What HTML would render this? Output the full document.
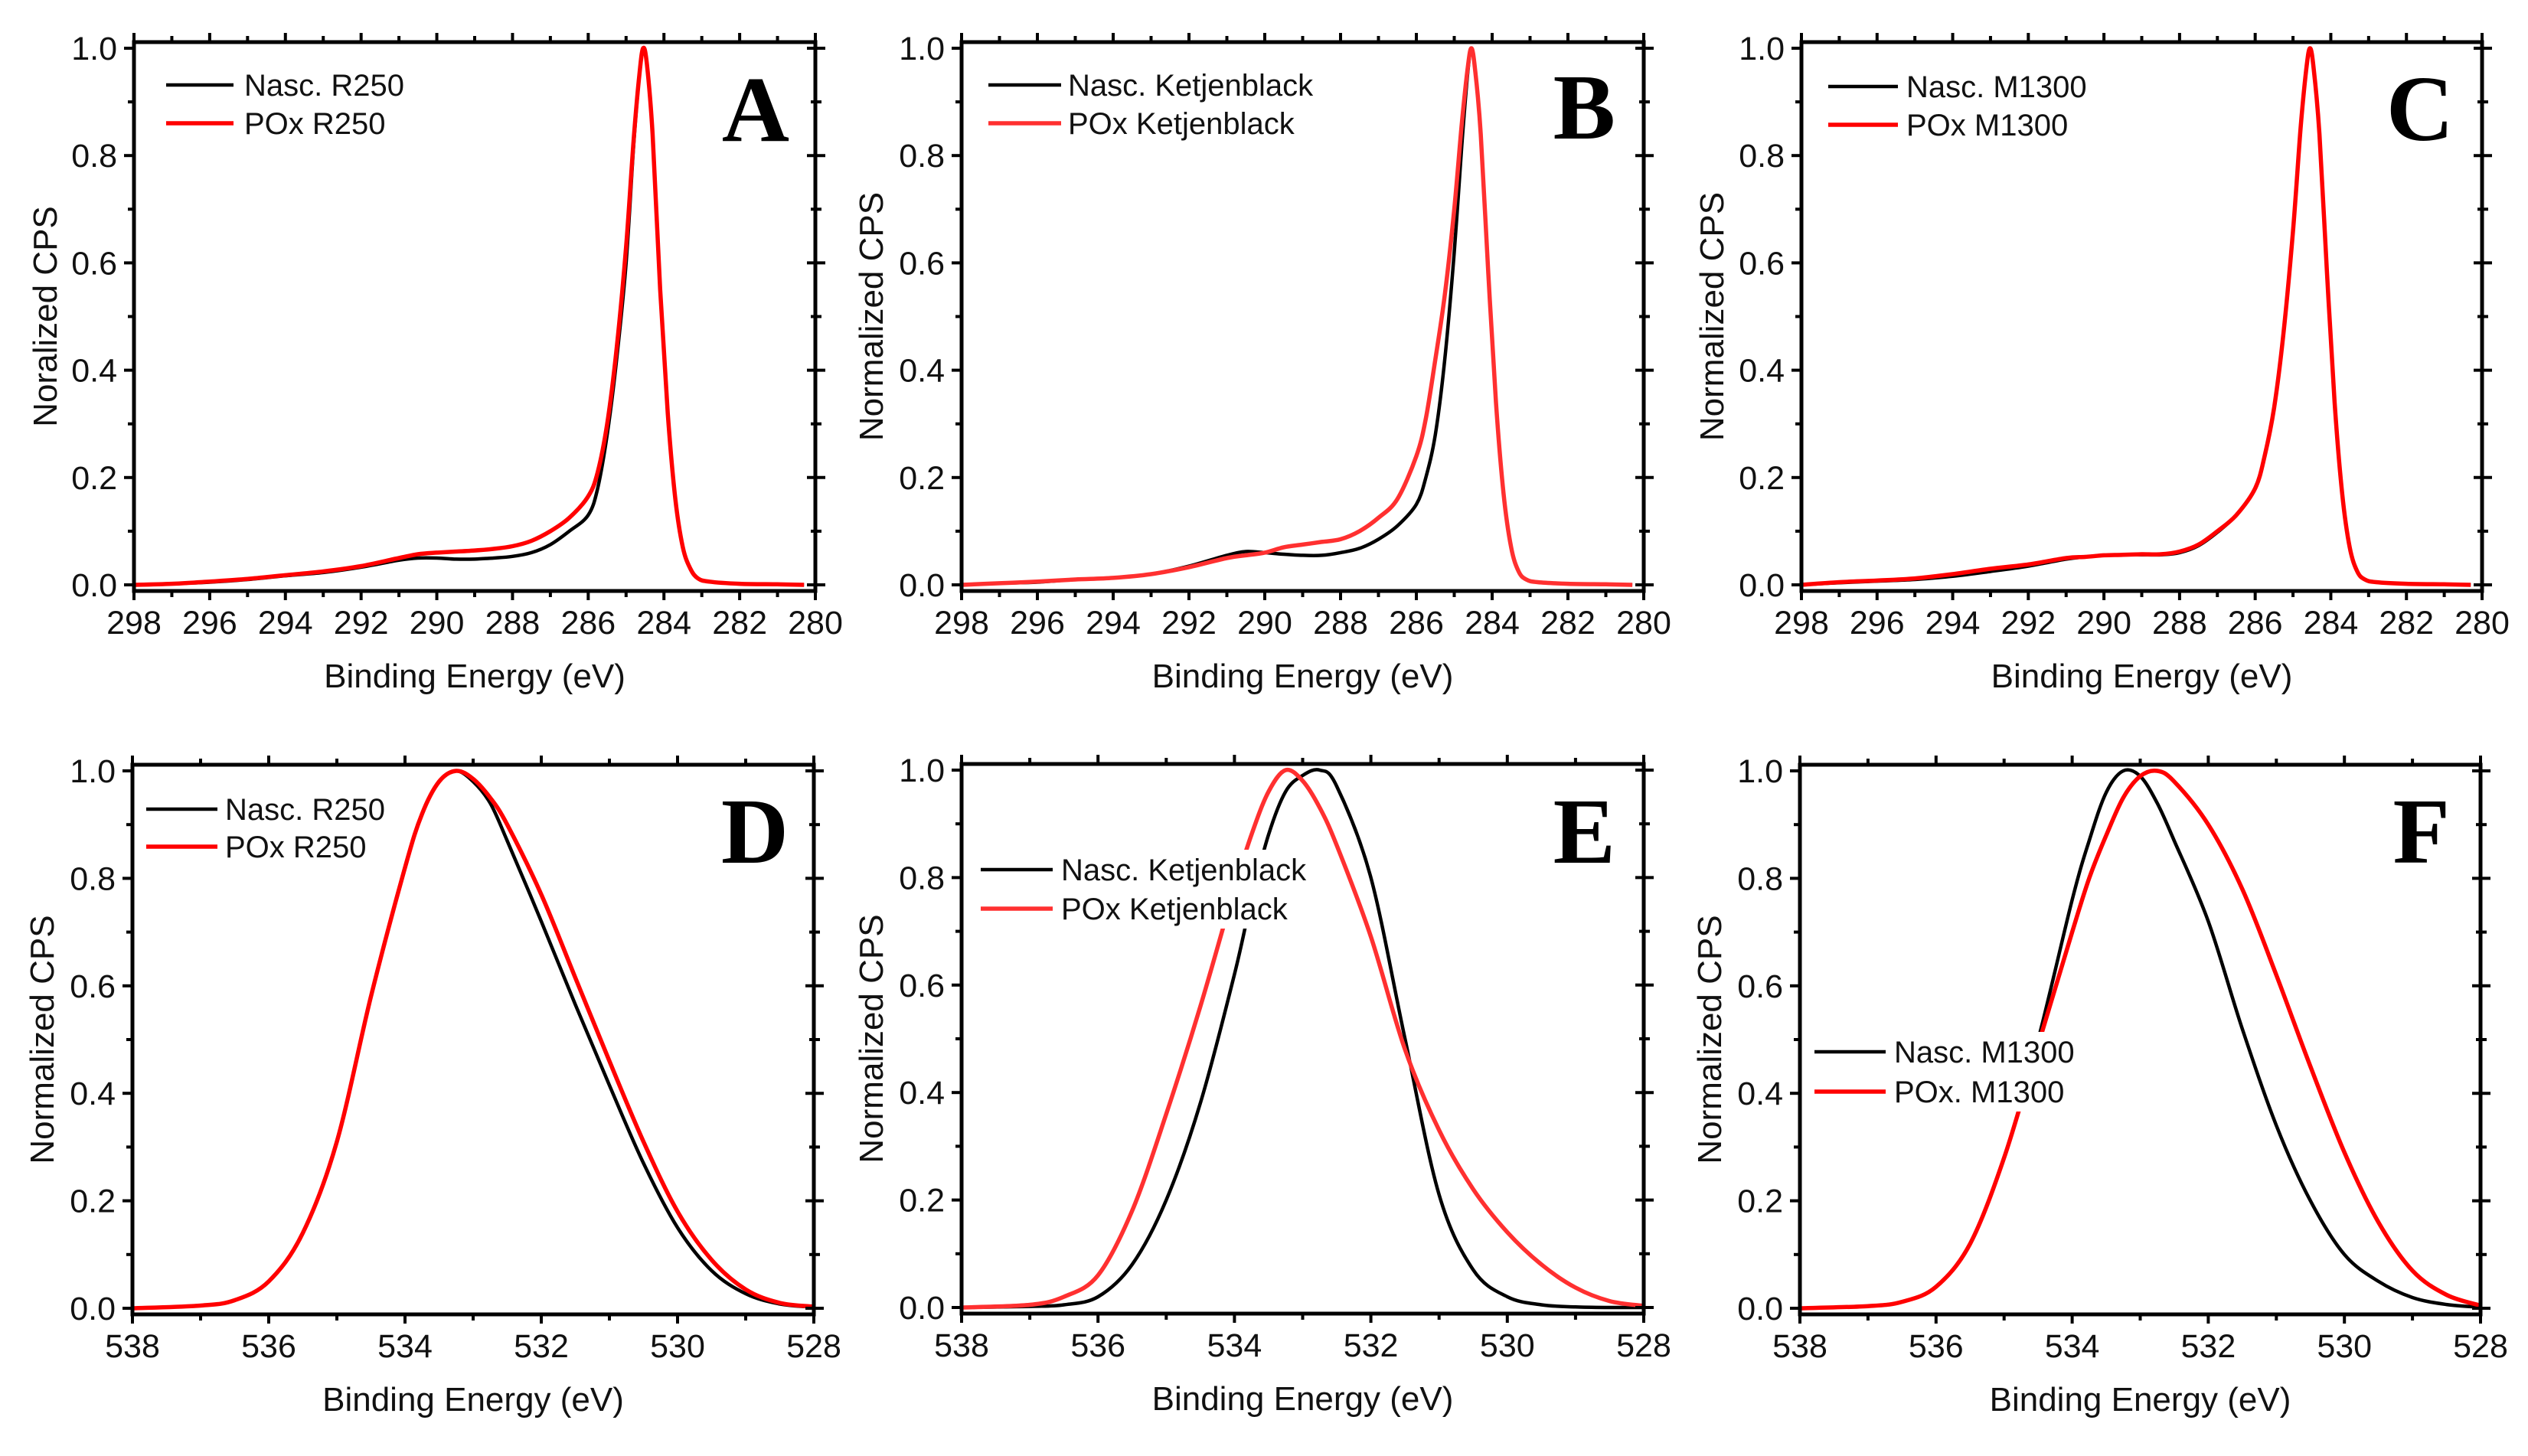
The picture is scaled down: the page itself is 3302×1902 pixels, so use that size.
<!DOCTYPE html>
<html><head><meta charset="utf-8"><style>
html,body{margin:0;padding:0;background:#fff;}
svg{display:block;}
text{font-family:"Liberation Sans",Arial,sans-serif;fill:#111;}
.letter{font-family:"Liberation Serif",serif;font-weight:bold;fill:#000;}
</style></head><body>
<svg id="fig" width="3302" height="1902" viewBox="0 0 3302 1902" xmlns="http://www.w3.org/2000/svg"></svg>
<script>
// ---- C1s data (panels A-C) ----
const c1sEnergy=[298,297,296,295,294,293,292,291,290.5,290,289.5,289,288.5,288,287.5,287,286.5,286,285.75,285.5,285.25,285,284.8,284.65,284.55,284.45,284.3,284.1,283.9,283.7,283.5,283.3,283.1,282.8,282,281,280.3];
const aNasc=[0,0.002,0.005,0.01,0.017,0.023,0.033,0.046,0.05,0.05,0.048,0.048,0.05,0.053,0.06,0.075,0.1,0.13,0.18,0.28,0.42,0.6,0.82,0.95,1.0,0.97,0.84,0.55,0.32,0.16,0.07,0.03,0.012,0.006,0.002,0.001,0];
const aPox=[0,0.002,0.006,0.011,0.018,0.025,0.035,0.05,0.057,0.06,0.062,0.064,0.067,0.072,0.082,0.1,0.125,0.165,0.21,0.3,0.44,0.63,0.83,0.95,1.0,0.97,0.84,0.55,0.32,0.16,0.07,0.03,0.012,0.006,0.002,0.001,0];
const bNasc=[0,0.003,0.005,0.01,0.013,0.02,0.035,0.055,0.062,0.06,0.057,0.055,0.055,0.06,0.068,0.085,0.11,0.15,0.2,0.28,0.42,0.62,0.82,0.95,1.0,0.96,0.84,0.58,0.34,0.17,0.07,0.025,0.01,0.005,0.002,0.001,0];
const bPox=[0,0.003,0.006,0.01,0.013,0.02,0.033,0.05,0.055,0.06,0.07,0.075,0.08,0.085,0.1,0.125,0.16,0.24,0.31,0.42,0.54,0.7,0.86,0.96,1.0,0.96,0.84,0.58,0.34,0.17,0.07,0.025,0.01,0.005,0.002,0.001,0];
const cNasc=[0,0.004,0.007,0.01,0.016,0.025,0.035,0.048,0.052,0.055,0.056,0.056,0.056,0.06,0.073,0.098,0.13,0.18,0.24,0.33,0.47,0.66,0.85,0.96,1.0,0.96,0.84,0.58,0.34,0.17,0.07,0.025,0.01,0.005,0.002,0.001,0];
const cPox=[0,0.005,0.008,0.012,0.02,0.03,0.038,0.05,0.052,0.055,0.056,0.057,0.057,0.062,0.075,0.1,0.13,0.18,0.24,0.33,0.47,0.66,0.85,0.96,1.0,0.96,0.84,0.58,0.34,0.17,0.07,0.025,0.01,0.005,0.002,0.001,0];
// ---- O1s data (panels D-F) ----
const o1sEnergy=[538,537,536.5,536,535.5,535,534.5,534,533.75,533.5,533.25,533,532.75,532.5,532,531.5,531,530.5,530,529.5,529,528.5,528];
const dNasc=[0,0.005,0.015,0.05,0.14,0.31,0.58,0.82,0.92,0.98,1.0,0.98,0.94,0.87,0.72,0.565,0.415,0.27,0.15,0.07,0.027,0.008,0.002];
const dPox=[0,0.005,0.015,0.05,0.14,0.31,0.58,0.82,0.92,0.98,1.0,0.985,0.95,0.9,0.77,0.615,0.46,0.31,0.18,0.09,0.035,0.01,0.003];
const eNasc=[0,0.002,0.005,0.02,0.08,0.2,0.38,0.62,0.76,0.88,0.96,0.99,1.0,0.97,0.8,0.5,0.21,0.07,0.02,0.005,0.001,0,0];
const ePox=[0,0.005,0.02,0.06,0.18,0.36,0.56,0.78,0.88,0.96,1.0,0.98,0.93,0.86,0.69,0.48,0.33,0.22,0.14,0.08,0.037,0.012,0.003];
const fNasc=[0,0.004,0.012,0.04,0.12,0.28,0.5,0.76,0.87,0.96,1.0,0.99,0.94,0.87,0.72,0.52,0.34,0.2,0.1,0.05,0.02,0.007,0.002];
const fPox=[0,0.004,0.012,0.04,0.12,0.28,0.49,0.7,0.8,0.88,0.95,0.99,1.0,0.98,0.9,0.78,0.62,0.45,0.29,0.16,0.07,0.025,0.005];
const c1sTicks=[298,296,294,292,290,288,286,284,282,280];
const o1sTicks=[538,536,534,532,530,528];
const yTicks=[0,0.2,0.4,0.6,0.8,1.0];

const NS="http://www.w3.org/2000/svg";
const svg=document.getElementById('fig');
function mk(tag,attrs,parent){const e=document.createElementNS(NS,tag);for(const k in attrs)e.setAttribute(k,attrs[k]);(parent||svg).appendChild(e);return e;}

const panels=[
 {id:'a',L:175,R:1065,T:63,B:764,xmin:298,xmax:280,ticks:c1sTicks,minor:1,E:c1sEnergy,s:[aNasc,aPox],names:['Nasc. R250','POx R250'],ylab:'Noralized CPS',letter:'A',leg:[217,305,319,111,161],lx:1031,ly:184,ycx:60,red:'#ff0000',bg:false},
 {id:'b',L:1256,R:2147,T:63,B:764,xmin:298,xmax:280,ticks:c1sTicks,minor:1,E:c1sEnergy,s:[bNasc,bPox],names:['Nasc. Ketjenblack','POx Ketjenblack'],ylab:'Normalized CPS',letter:'B',leg:[1291,1386,1395,111,161],lx:2110,ly:181,ycx:1139,red:'#ff3030',bg:false},
 {id:'c',L:2353,R:3242,T:63,B:764,xmin:298,xmax:280,ticks:c1sTicks,minor:1,E:c1sEnergy,s:[cNasc,cPox],names:['Nasc. M1300','POx M1300'],ylab:'Normalized CPS',letter:'C',leg:[2388,2479,2490,113,163],lx:3205,ly:183,ycx:2237,red:'#ff0000',bg:false},
 {id:'d',L:173,R:1063,T:1007,B:1709,xmin:538,xmax:528,ticks:o1sTicks,minor:1,E:o1sEnergy,s:[dNasc,dPox],names:['Nasc. R250','POx R250'],ylab:'Normalized CPS',letter:'D',leg:[191,284,294,1057,1106],lx:1030,ly:1127,ycx:56,red:'#ff0000',bg:false},
 {id:'e',L:1256,R:2147,T:1006,B:1708,xmin:538,xmax:528,ticks:o1sTicks,minor:1,E:o1sEnergy,s:[eNasc,ePox],names:['Nasc. Ketjenblack','POx Ketjenblack'],ylab:'Normalized CPS',letter:'E',leg:[1281,1375,1386,1136,1187],lx:2110,ly:1127,ycx:1139,red:'#ff3030',bg:true},
 {id:'f',L:2351,R:3240,T:1007,B:1709,xmin:538,xmax:528,ticks:o1sTicks,minor:1,E:o1sEnergy,s:[fNasc,fPox],names:['Nasc. M1300','POx. M1300'],ylab:'Normalized CPS',letter:'F',leg:[2370,2463,2474,1374,1426],lx:3200,ly:1127,ycx:2234,red:'#ff0000',bg:true}
];

function smoothPath(pts){
 let d='M'+pts[0][0].toFixed(1)+','+pts[0][1].toFixed(1);
 for(let i=0;i<pts.length-1;i++){
  const p0=pts[Math.max(0,i-1)],p1=pts[i],p2=pts[i+1],p3=pts[Math.min(pts.length-1,i+2)];
  const c1=[p1[0]+(p2[0]-p0[0])/6,p1[1]+(p2[1]-p0[1])/6];
  const c2=[p2[0]-(p3[0]-p1[0])/6,p2[1]-(p3[1]-p1[1])/6];
  d+='C'+c1[0].toFixed(1)+','+c1[1].toFixed(1)+' '+c2[0].toFixed(1)+','+c2[1].toFixed(1)+' '+p2[0].toFixed(1)+','+p2[1].toFixed(1);
 }
 return d;
}

panels.forEach(p=>{
 const g=mk('g',{});
 
 
 const X=v=>p.L+(v-p.xmin)/(p.xmax-p.xmin)*(p.R-p.L);
 const Y=v=>p.B-v*(p.B-p.T);
 const fT=p.T-8,fB=p.B+8;
 const cols=['#000',p.red],w=[4.5,5.5];
 p.s.forEach((arr,k)=>{
  const pts=p.E.map((e,i)=>[X(e),Y(arr[i])]);
  const path=mk('path',{d:smoothPath(pts),fill:'none',stroke:cols[k],'stroke-width':w[k],'stroke-linejoin':'round'},g);
  
  
 });
 const fr=mk('rect',{x:p.L,y:fT,width:p.R-p.L,height:fB-fT,fill:'none',stroke:'#000','stroke-width':5},g);
 
 
 const x0=Math.min(p.xmin,p.xmax),x1=Math.max(p.xmin,p.xmax);
 for(let v=x0;v<=x1+1e-6;v+=p.minor){
  const major=p.ticks.some(t=>Math.abs(t-v)<1e-6);
  const len=major?12:8;
  mk('line',{x1:X(v),x2:X(v),y1:fB,y2:fB+len,stroke:'#000','stroke-width':4},g);
  mk('line',{x1:X(v),x2:X(v),y1:fT,y2:fT-len,stroke:'#000','stroke-width':4},g);
 }
 p.ticks.forEach(t=>{
  const tx=mk('text',{x:X(t),y:p.B+64,'font-size':43,'text-anchor':'middle'},g);
  tx.textContent=String(t);
  
  
 });
 for(let i=0;i<=10;i++){
  const v=i/10,major=i%2==0,len=major?13:8;
  mk('line',{x1:p.L-len,x2:p.L,y1:Y(v),y2:Y(v),stroke:'#000','stroke-width':4},g);
  mk('line',{x1:p.R-len+2,x2:p.R+len,y1:Y(v),y2:Y(v),stroke:'#000','stroke-width':4},g);
 }
 yTicks.forEach(t=>{
  const ty=mk('text',{x:p.L-22,y:Y(t)+15,'font-size':43,'text-anchor':'end'},g);
  ty.textContent=t.toFixed(1);
  
  
 });
 const xt=mk('text',{x:(p.L+p.R)/2,y:p.B+134,'font-size':44,'text-anchor':'middle'},g);
 xt.textContent='Binding Energy (eV)';
 
 
 const cy=(p.T+p.B)/2;
 const yt=mk('text',{x:p.ycx+14,y:cy,'font-size':44,'text-anchor':'middle',transform:'rotate(-90 '+(p.ycx+14)+' '+cy+')'},g);
 yt.textContent=p.ylab;
 
 
 const [l1,l2,tx0,r1,r2]=p.leg;
 const lg=mk('g',{},g);
 
 
 if(p.bg){mk('rect',{x:l1-6,y:r1-26,width:(p.id=='e'?470:380),height:r2-r1+52,fill:'#fff'},lg);}
 [r1,r2].forEach((ry,k)=>{
  mk('line',{x1:l1,x2:l2,y1:ry,y2:ry,stroke:cols[k],'stroke-width':w[k]},lg);
  const t=mk('text',{x:tx0,y:ry+14,'font-size':40},lg);
  t.textContent=p.names[k];
  
  
 });
 const L=mk('text',{x:p.lx,y:p.ly,'font-size':122,'text-anchor':'end',class:'letter'},g);
 L.textContent=p.letter;
 
 
});
</script>
</body></html>
